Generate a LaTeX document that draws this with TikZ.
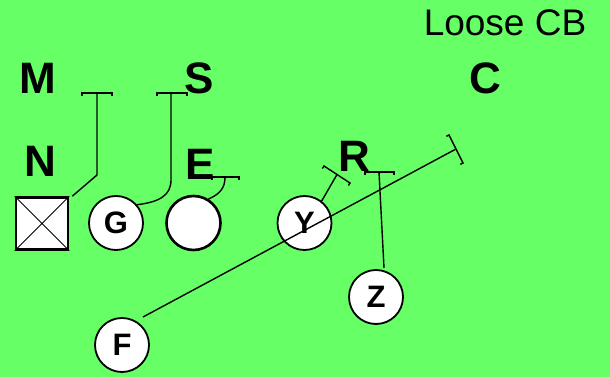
\documentclass[tikz,border=0pt]{standalone}
\usepackage{fontspec}
\setmainfont{Liberation Sans}
\usetikzlibrary{calc}
\definecolor{field}{HTML}{66FF66}
\begin{document}
\begin{tikzpicture}[x=1pt,y=-1pt,
  lbl/.style={inner sep=0pt,font=\fontsize{44}{44}\selectfont\bfseries},
  player/.style={circle,draw=black,line width=1.8pt,fill=white,minimum size=54pt,inner sep=0pt,font=\fontsize{31}{31}\selectfont\bfseries},
  route/.style={line width=1.4pt,black},
]
\fill[field] (0,0) rectangle (610,377);
\useasboundingbox (0,0) rectangle (610,377);
\newcommand{\tbar}[2]{\draw[route] ($(#1)!3pt!-90:(#2)$) -- (#1) -- (#2) -- ($(#2)!3pt!90:(#1)$);}
% labels
\node[inner sep=0pt,font=\fontsize{37}{37}\selectfont] (lcb) at (505,23) {Loose CB};
\node[lbl] (M) at (38,78) {M};
\node[lbl] (S) at (199,78) {S};
\node[lbl] (C) at (485,78) {C};
\node[lbl] (N) at (40,161) {N};
\node[lbl] (E) at (200,164) {E};
\node[lbl] (R) at (354,156) {R};
% players
\node[draw=black,line width=2.6pt,fill=white,minimum size=52pt,inner sep=0pt] (sq) at (42,223.5) {};
\draw[line width=0.9pt] (sq.north west) -- (sq.south east) (sq.north east) -- (sq.south west);
\node[player] (g) at (116,223) {G};
\node[player,line width=2.6pt] (o) at (193.5,223) {};
\node[player] (y) at (304.5,223) {Y};
\node[player] (z) at (376,297) {Z};
\node[player] (f) at (122,345) {F};
% route ends
\coordinate (m1) at (82,93); \coordinate (m2) at (112,93);
\coordinate (s1) at (157,93); \coordinate (s2) at (187,93);
\coordinate (e1) at (212,177); \coordinate (e2) at (239,177);
\coordinate (y1) at (324,166); \coordinate (y2) at (350,183);
\coordinate (z1) at (365,172); \coordinate (z2) at (394,172);
\coordinate (f1) at (449,135); \coordinate (f2) at (463,163);
% routes
\draw[route] ($(sq.north east)+(3,0)$) -- (97,175) -- (97,93);
\tbar{m1}{m2}
\draw[route] (g.41) .. controls (160,202) and (171,195) .. (171,180) -- (171,93);
\tbar{s1}{s2}
\draw[route] (o.58) .. controls (220,194) and (225,188) .. (225,177);
\tbar{e1}{e2}
\draw[route] (y.52) -- ($(y1)!0.5!(y2)$);
\tbar{y1}{y2}
\draw[route] (384,268) -- (379,172);
\tbar{z1}{z2}
\draw[route] (143,317) -- ($(f1)!0.5!(f2)$);
\tbar{f1}{f2}
\end{tikzpicture}
\end{document}
